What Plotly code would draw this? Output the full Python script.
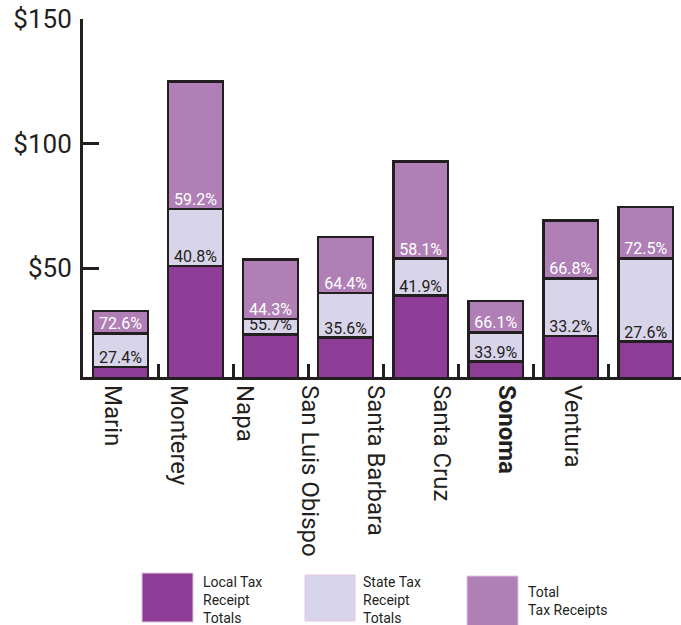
import plotly.graph_objects as go

# --- data ---
counties = ["Marin", "Monterey", "Napa", "San Luis Obispo", "Santa Barbara",
            "Santa Cruz", "Sonoma", "Ventura"]
county_labels = ["Marin", "Monterey", "Napa", "San Luis Obispo", "Santa Barbara",
                 "Santa Cruz", "<b>Sonoma</b>", "Ventura"]
local_tax = [10.5, 50.9, 23.5, 22.2, 39.0, 12.6, 22.9, 20.6]
state_tax = [13.4, 22.9, 6.2, 17.9, 14.9, 11.7, 23.1, 33.4]
total_tax = [32.9, 124.9, 53.6, 62.5, 92.8, 36.9, 69.1, 74.5]
state_pct = ["27.4%", "40.8%", "55.7%", "35.6%", "41.9%", "33.9%", "33.2%", "27.6%"]
top_pct = ["72.6%", "59.2%", "44.3%", "64.4%", "58.1%", "66.1%", "66.8%", "72.5%"]
y_ticks = [50, 100, 150]
y_tick_text = ["$50", "$100", "$150"]

DARK = "#8e3d96"
LIGHT = "#d8d4e9"
MID = "#b07fb5"
INK = "#231f20"
FONT = "Roboto"

W, H = 681, 625
L, R, T, B = 83, 0, 19, 248

remaining = [t - l - s for t, l, s in zip(total_tax, local_tax, state_tax)]
local_top = [l + s for l, s in zip(local_tax, state_tax)]

fig = go.Figure()
bar_line = dict(color=INK, width=2.5)
fig.add_trace(go.Bar(x=counties, y=local_tax, marker=dict(color=DARK, line=bar_line),
                     width=0.73, showlegend=False))
fig.add_trace(go.Bar(x=counties, y=state_tax, marker=dict(color=LIGHT, line=bar_line),
                     width=0.73, showlegend=False))
fig.add_trace(go.Bar(x=counties, y=remaining, marker=dict(color=MID, line=bar_line),
                     width=0.73, showlegend=False))

# percentage labels sitting on segment bottoms
fig.add_trace(go.Scatter(x=counties, y=local_tax, mode="text", text=state_pct,
                         textposition="top center", cliponaxis=False,
                         textfont=dict(family=FONT, size=16, color=INK),
                         showlegend=False, hoverinfo="skip"))
fig.add_trace(go.Scatter(x=counties, y=local_top, mode="text", text=top_pct,
                         textposition="top center", cliponaxis=False,
                         textfont=dict(family=FONT, size=16, color="white"),
                         showlegend=False, hoverinfo="skip"))

# dummy trace so the label axis is drawn
fig.add_trace(go.Scatter(x=list(range(len(counties))), y=[None] * len(counties),
                         xaxis="x2", showlegend=False, hoverinfo="skip"))

# label axis is offset from the bars, like the original artwork
pitch = 65.7
r0 = -(113 - L) / pitch
r1 = r0 + (W - L - R) / pitch

fig.update_layout(
    width=W, height=H,
    margin=dict(l=L, r=R, t=T, b=B, autoexpand=False),
    barmode="stack",
    plot_bgcolor="white", paper_bgcolor="white",
    font=dict(family=FONT, color=INK),
    xaxis=dict(type="category", categoryarray=counties, range=[-0.5, 7.47],
               tickson="boundaries", ticks="inside", ticklen=13, tickwidth=3,
               tickcolor=INK, showline=True, linewidth=3, linecolor=INK,
               showticklabels=False, showgrid=False, zeroline=False,
               automargin=False),
    xaxis2=dict(overlaying="x", anchor="y", side="bottom", range=[r0, r1],
                tickmode="array", tickvals=list(range(len(counties))),
                ticktext=county_labels, tickangle=90, ticks="",
                showline=False, showgrid=False, zeroline=False,
                ticklabelstandoff=7, automargin=False,
                tickfont=dict(family=FONT, size=24, color=INK)),
    yaxis=dict(range=[6.4, 150], tickvals=y_ticks, ticktext=y_tick_text,
               ticks="inside", ticklen=16, tickwidth=3, tickcolor=INK,
               showline=True, linewidth=3, linecolor=INK, showgrid=False,
               zeroline=False, ticklabelstandoff=3, automargin=False,
               tickfont=dict(family=FONT, size=26, color=INK)),
)

fig.add_annotation(x=0, xref="paper", y=0, yref="y", text="$0", showarrow=False,
                   xanchor="right", xshift=-6, yshift=-2,
                   font=dict(family=FONT, size=26, color=INK))


def px(x, y):
    return (x - L) / (W - L - R), (H - B - y) / (H - T - B)


legend = [
    (142, 573, 193, 622, DARK, "Local Tax<br>Receipt<br>Totals", 201, 572),
    (305, 575, 355, 621, LIGHT, "State Tax<br>Receipt<br>Totals", 361, 572),
    (467, 576, 518, 628, MID, "Total<br>Tax Receipts", 526, 582),
]
for x0, y0, x1, y1, col, label, tx, ty in legend:
    a0, b0 = px(x0, y0)
    a1, b1 = px(x1, y1)
    fig.add_shape(type="rect", xref="paper", yref="paper", x0=a0, x1=a1, y0=b1, y1=b0,
                  fillcolor=col, line=dict(color="#e2c6e4", width=1))
    ax, ay = px(tx, ty)
    fig.add_annotation(x=ax, y=ay, xref="paper", yref="paper", text=label,
                       showarrow=False, xanchor="left", yanchor="top", align="left",
                       font=dict(family=FONT, size=14, color=INK))

# page body margin would shift the picture by 8px
fig.write_html("out.html", config={"displayModeBar": False},
               post_script="document.body.style.margin='0';")
